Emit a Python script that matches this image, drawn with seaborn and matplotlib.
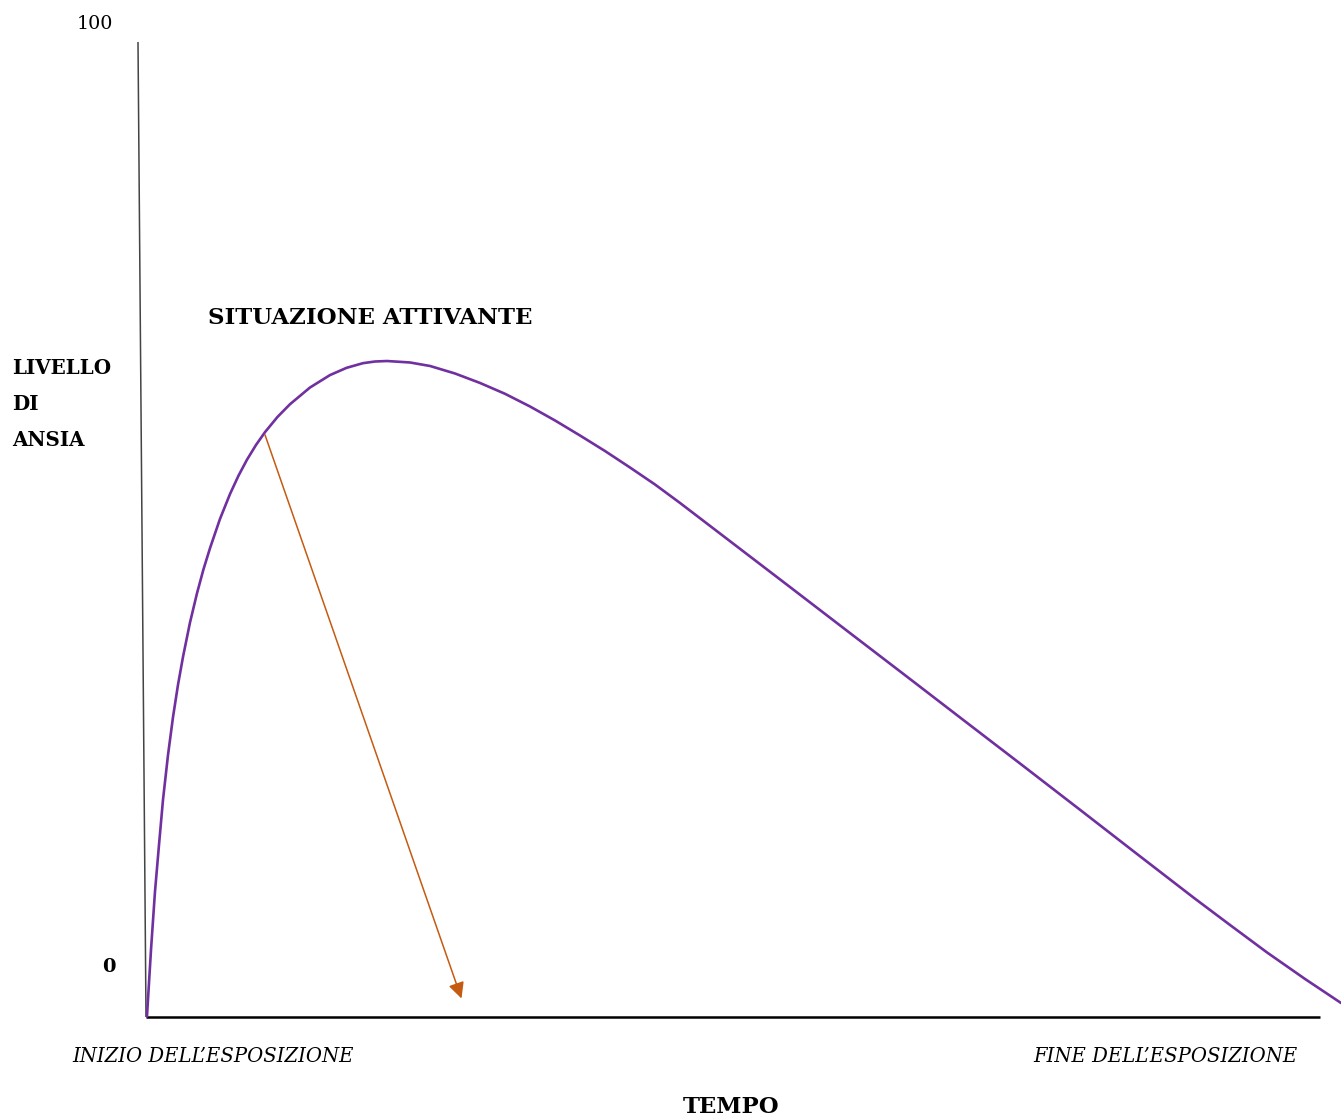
import matplotlib
matplotlib.use("Agg")
import matplotlib.pyplot as plt
import seaborn as sns
import pandas as pd

# curve: time (0-100) vs anxiety level (0-100)
tempo = [0.08, 0.42, 0.75, 1.09, 1.42, 1.84, 2.26, 2.68, 3.10, 3.68, 4.27,
         4.81, 5.36, 6.19, 7.03, 7.74, 8.45, 9.21, 9.96, 11.00, 12.05, 13.72,
         15.40, 16.78, 18.16, 19.16, 20.17, 22.09, 23.77, 25.86, 27.95, 30.04,
         32.13, 34.23, 36.32, 38.41, 40.50, 42.59, 44.69, 49.29, 53.89, 58.91,
         63.93, 68.45, 73.14, 78.08, 82.93, 87.70, 90.71, 93.81, 96.99, 100.0]
ansia = [0.05, 6.92, 12.83, 17.69, 22.25, 26.86, 30.76, 34.09, 36.96, 40.45,
         43.47, 45.92, 48.10, 51.08, 53.64, 55.52, 57.16, 58.68, 59.99, 61.54,
         62.85, 64.56, 65.84, 66.58, 67.06, 67.23, 67.28, 67.13, 66.77, 66.00,
         65.03, 63.92, 62.62, 61.18, 59.64, 58.05, 56.36, 54.62, 52.72, 48.41,
         44.10, 39.38, 34.67, 30.41, 26.00, 21.33, 16.72, 12.21, 9.44, 6.62,
         3.90, 1.44]

# arrow pointing down from the curve
freccia_da = (9.96, 59.7)
freccia_a = (26.4, 1.9)

y_ticks = ["0", "100"]
etichetta_y = ["LIVELLO", "DI", "ANSIA"]
etichetta_x = "TEMPO"
inizio = "INIZIO DELL\u2019ESPOSIZIONE"
fine = "FINE DELL\u2019ESPOSIZIONE"
titolo = "SITUAZIONE ATTIVANTE"

sns.set_theme(style="white")
plt.rcParams["font.family"] = ["DejaVu Serif"]
plt.rcParams["text.color"] = "black"

df = pd.DataFrame({"tempo": tempo, "ansia": ansia})

W, H = 1341, 1120
fig = plt.figure(figsize=(W / 100, H / 100), dpi=100)
ax = fig.add_axes([0, 0, 1, 1])
# pixel mapping: t=0 -> x 146, t=100 -> x 1341 ; a=0 -> y 1017, a=100 -> y 42
sx = (1341 - 146) / 100
sy = (1017 - 42) / 100
ax.set_xlim(-146 / sx, (W - 146) / sx)
ax.set_ylim((1017 - H) / sy, 1017 / sy)
ax.axis("off")

# axes drawn by hand (the y axis leans slightly)
ax.plot([-8 / sx, 0], [100, 0], color="#444444", lw=1.1, solid_capstyle="butt")
ax.plot([0, (1320 - 146) / sx], [0, 0], color="black", lw=1.8, solid_capstyle="butt")

sns.lineplot(data=df, x="tempo", y="ansia", ax=ax, color="#7030A0",
             lw=1.9, sort=False, estimator=None)

ax.annotate("", xy=freccia_a, xytext=freccia_da,
            arrowprops=dict(arrowstyle="-|>", color="#C55A11", lw=1.1,
                            mutation_scale=24, shrinkA=0, shrinkB=0))


def px(x, y):
    return x / W, 1 - y / H


fig.text(*px(95, 24), y_ticks[1], fontsize=13.8, ha="center", va="center")
fig.text(*px(109, 967), y_ticks[0], fontsize=14, fontweight="bold",
         ha="center", va="center")
for i, riga in enumerate(etichetta_y):
    fig.text(*px(12, 368 + 36 * i), riga, fontsize=14.3, fontweight="bold",
             ha="left", va="center")
fig.text(*px(370, 318), titolo, fontsize=16.5, fontweight="bold",
         ha="center", va="center")
fig.text(*px(213, 1057), inizio, fontsize=14.1, style="italic",
         ha="center", va="center")
fig.text(*px(1165, 1057), fine, fontsize=14.1, style="italic",
         ha="center", va="center")
fig.text(*px(731, 1107), etichetta_x, fontsize=16.4, fontweight="bold",
         ha="center", va="center")

plt.savefig("out.png", dpi=100)
